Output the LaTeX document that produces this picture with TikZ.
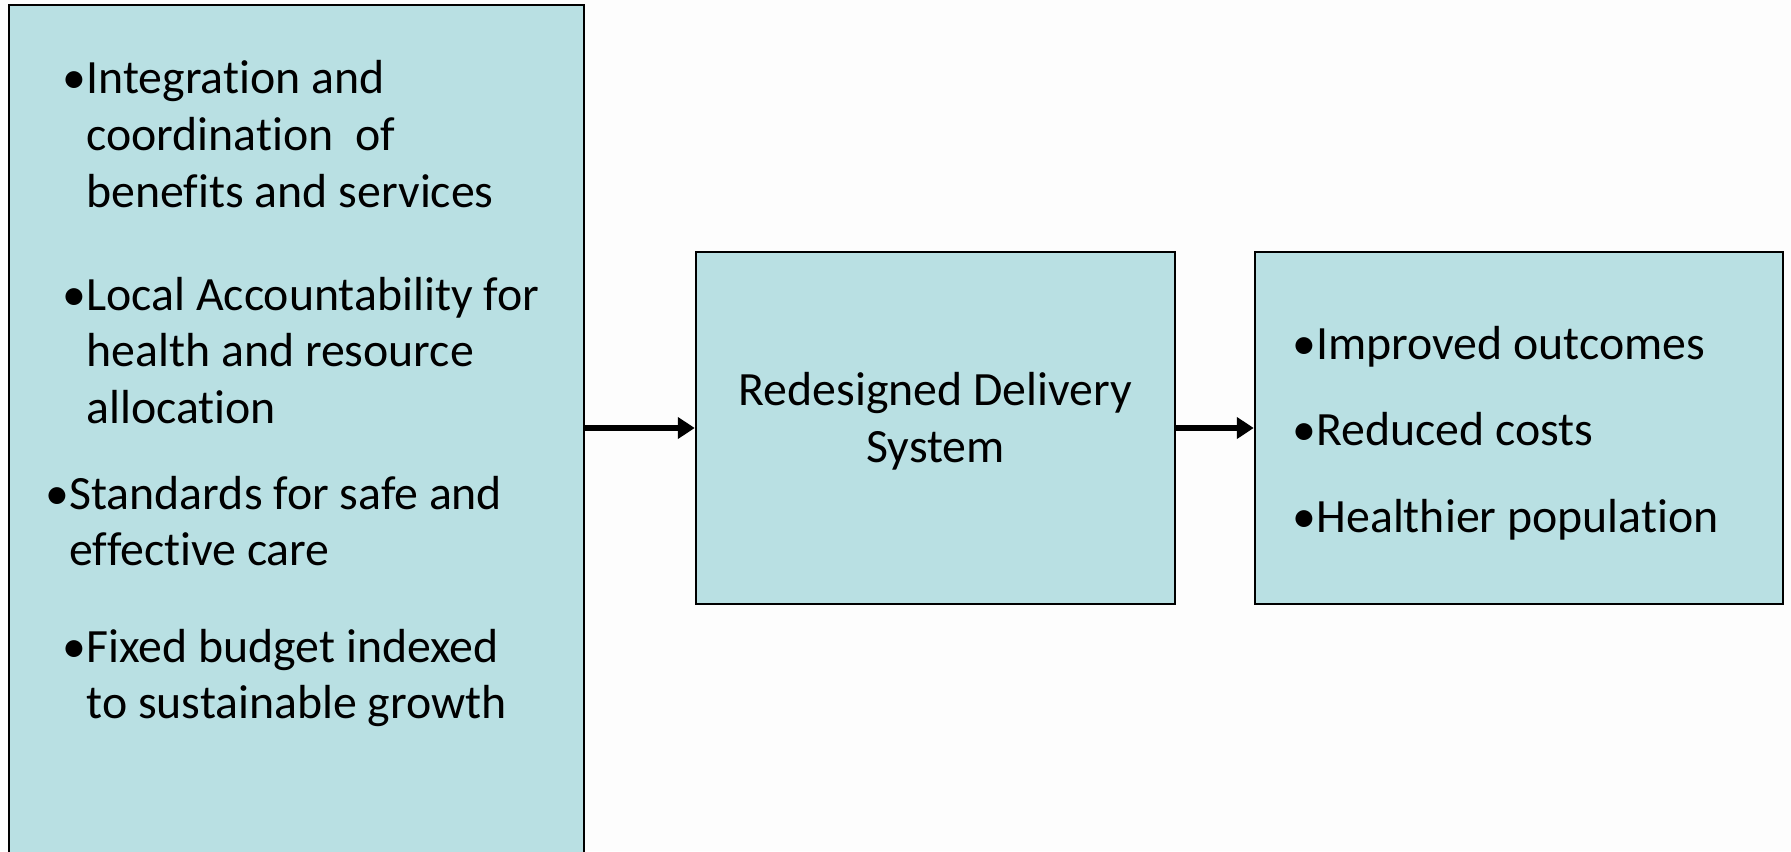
\documentclass[tikz,border=0pt]{standalone}
\usepackage{fontspec}
\setmainfont[Ligatures=NoCommon]{Carlito}
\usetikzlibrary{arrows.meta}

\definecolor{boxblue}{HTML}{B9E0E3}
\definecolor{pagewhite}{HTML}{FDFDFD}

% bullet with the following lines hanging under the text
\newcommand{\bulitem}[1]{\textbullet\begin{tabular}[t]{@{}l@{}}#1\end{tabular}}

\tikzset{
  box/.style={draw, fill=boxblue, line width=0.025cm, inner sep=0pt},
  item/.style={anchor=base west, inner sep=0pt, align=left},
  flow/.style={line width=0.065cm, -{Triangle[length=0.17cm,width=0.21cm]}}
}

\begin{document}
\begin{tikzpicture}[font=\fontsize{13.6}{16.2}\selectfont]
    \fill[pagewhite] (0,0) rectangle (17.91,8.51);
    \useasboundingbox (0,0) rectangle (17.91,8.51);

    % the three boxes
    \node[box, minimum width=5.75cm, minimum height=8.66cm] (policy) at (2.965,4.13) {};
    \node[box, minimum width=4.79cm, minimum height=3.52cm] (delivery) at (9.355,4.23) {};
    \node[box, minimum width=5.28cm, minimum height=3.52cm] (results) at (15.19,4.23) {};
    \node[align=center, inner sep=0pt] (deltext) at ([yshift=0.07cm]delivery.center)
        {Redesigned Delivery\\System};

    % left box items
    \node[item] (integ) at (0.62,7.57) {\bulitem{Integration and\\coordination~~of\\benefits and services}};
    \node[item] (local) at (0.62,5.41) {\bulitem{Local Accountability for\\health and resource\\allocation}};
    \node[item] (stand) at (0.45,3.42) {\bulitem{Standards for safe and\\effective care}};
    \node[item] (budget) at (0.62,1.89) {\bulitem{Fixed budget indexed\\to sustainable growth}};

    % right box items
    \node[item] (outcome) at (12.92,4.92) {\textbullet Improved outcomes};
    \node[item] (costs) at (12.92,4.06) {\textbullet Reduced costs};
    \node[item] (health) at (12.92,3.19) {\textbullet Healthier population};

    \draw[flow] (delivery.west -| policy.east) -- (delivery.west);
    \draw[flow] (delivery.east) -- (results.west);
\end{tikzpicture}
\end{document}
